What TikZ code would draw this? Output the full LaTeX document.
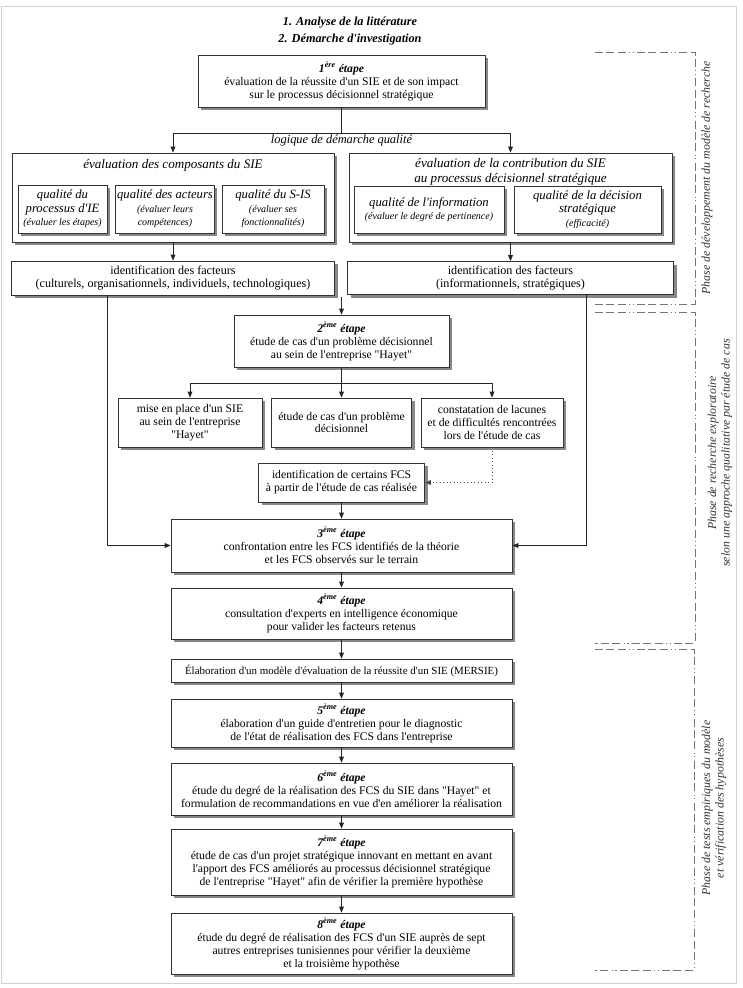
\documentclass[tikz,border=0pt]{standalone}
\usepackage{fontspec}
\setmainfont{Liberation Serif}[Ligatures=TeXOff]
\usetikzlibrary{shadows,arrows.meta}
\newcommand{\bodyf}{\fontsize{8.75pt}{9.7pt}\selectfont}
\newcommand{\smallit}{\fontsize{7.5pt}{8.6pt}\selectfont\itshape}
\newcommand{\subit}{\fontsize{9.5pt}{10.2pt}\selectfont\itshape}
\newcommand{\etape}[2]{\textbf{\textit{#1\textsuperscript{#2} étape}}}
\tikzset{
  box/.style={draw=black!80, line width=0.6pt, fill=white, align=center, inner sep=1pt, font=\bodyf,
    drop shadow={shadow xshift=2.4pt, shadow yshift=-2.4pt, fill=black!55, opacity=0.85}},
  wh/.style 2 args={minimum width=#1*0.75pt, minimum height=#2*0.75pt},
  arr/.style={-{Triangle[length=4.5pt,width=3.6pt]}, line width=0.6pt, draw=black!85},
  plain/.style={line width=0.6pt, draw=black!85},
  ttl/.style={font=\fontsize{9.2pt}{10pt}\selectfont\bfseries\itshape},
  evtitle/.style={align=center, inner sep=0pt, font=\fontsize{9.8pt}{10.8pt}\selectfont\itshape},
  phase/.style={align=center, inner sep=0pt, text=black!80, font=\fontsize{8.9pt}{10.2pt}\selectfont\itshape},
  phaseline/.style={draw=black!55, line width=0.7pt,
    dash pattern=on 6pt off 2.5pt on 6pt off 2.5pt on 6pt off 2.5pt on 0.8pt off 2pt on 0.8pt off 2.5pt}
}
\begin{document}
\begin{tikzpicture}[x=0.75pt,y=-0.75pt]
\useasboundingbox (0,0) rectangle (742,988);
\draw[black!18, line width=0.6pt] (1,6) rectangle (736,983);

% titles
\node[ttl] (t1) at (350,23) {1. Analyse de la littérature};
\node[ttl] (t2) at (350,40) {2. Démarche d'investigation};

% step 1
\node[box, wh={287}{52}] (b1) at (341.5,81) {\etape{1}{ère}\\ évaluation de la réussite d'un SIE et de son impact\\ sur le processus décisionnel stratégique};

% evaluation boxes
\node[box, wh={322}{89}] (evalL) at (173,197.5) {};
\node[evtitle] (evalLt) at (173,165) {évaluation des composants du SIE};
\node[box, wh={89}{48}, font=\subit] (qa) at (62.5,209) {qualité du\\ processus d'IE\\ {\smallit (évaluer les étapes)}};
\node[box, wh={98}{48}, font=\subit] (qb) at (165,209) {qualité des acteurs\\ {\smallit (évaluer leurs}\\ {\smallit compétences)}};
\node[box, wh={102}{48}, font=\subit] (qc) at (273,209) {qualité du S-IS\\ {\smallit (évaluer ses}\\ {\smallit fonctionnalités)}};

\node[box, wh={323}{89}] (evalR) at (510.5,197.5) {};
\node[evtitle] (evalRt) at (510.5,172) {évaluation de la contribution du SIE\\ au processus décisionnel stratégique};
\node[box, wh={150}{47}, font=\subit] (qd) at (429,209.5) {qualité de l'information\\ {\smallit (évaluer le degré de pertinence)}};
\node[box, wh={147}{47}, font=\subit] (qe) at (587.5,209.5) {qualité de la décision\\ stratégique\\ {\smallit (efficacité)}};

% factors
\node[box, wh={323}{34}, font=\fontsize{9.1pt}{10pt}\selectfont] (facL) at (173,278) {identification des facteurs\\ (culturels, organisationnels, individuels, technologiques)};
\node[box, wh={326}{33}, font=\fontsize{9.1pt}{10pt}\selectfont] (facR) at (510.5,278) {identification des facteurs\\ (informationnels, stratégiques)};

% step 2
\node[box, wh={215}{52}] (b2) at (341.5,341) {\etape{2}{ème}\\ étude de cas d'un problème décisionnel\\ au sein de l'entreprise "Hayet"};
\node[box, wh={144}{49}] (ca) at (190,422.5) {mise en place d'un SIE\\ au sein de l'entreprise\\ "Hayet"};
\node[box, wh={140}{49}] (cb) at (341.5,422.5) {étude de cas d'un problème\\ décisionnel};
\node[box, wh={142}{49}] (cc) at (492,422.5) {constatation de lacunes\\ et de difficultés rencontrées\\ lors de l'étude de cas};
\node[box, wh={166}{39}] (fcs) at (341.5,482.5) {identification de certains FCS\\ à partir de l'étude de cas réalisée};

% steps 3-8
\node[box, wh={341}{53}] (b3) at (341.5,545.5) {\etape{3}{ème}\\ confrontation entre les FCS identifiés de la théorie\\ et les FCS observés sur le terrain};
\node[box, wh={341}{51}] (b4) at (341.5,613.5) {\etape{4}{ème}\\ consultation d'experts en intelligence économique\\ pour valider les facteurs retenus};
\node[box, wh={341}{23}, font=\fontsize{8.2pt}{9pt}\selectfont] (mer) at (341.5,670.5) {Élaboration d'un modèle d'évaluation de la réussite d'un SIE (MERSIE)};
\node[box, wh={341}{48}] (b5) at (341.5,723) {\etape{5}{ème}\\ élaboration d'un guide d'entretien pour le diagnostic\\ de l'état de réalisation des FCS dans l'entreprise};
\node[box, wh={341}{52}] (b6) at (341.5,789) {\etape{6}{ème}\\ étude du degré de la réalisation des FCS du SIE dans "Hayet" et\\ formulation de recommandations en vue d'en améliorer la réalisation};
\node[box, wh={341}{66}] (b7) at (341.5,862) {\etape{7}{ème}\\ étude de cas d'un projet stratégique innovant en mettant en avant\\ l'apport des FCS améliorés au processus décisionnel stratégique\\ de l'entreprise "Hayet" afin de vérifier la première hypothèse};
\node[box, wh={341}{61}] (b8) at (341.5,943.5) {\etape{8}{ème}\\ étude du degré de réalisation des FCS d'un SIE auprès de sept\\ autres entreprises tunisiennes pour vérifier la deuxième\\ et la troisième hypothèse};

% connectors
\coordinate (s1) at (341.5,133);
\draw[plain] (b1.south) -- (s1);
\draw[arr] (s1) -| (evalL.north);
\draw[arr] (s1) -| (evalR.north);
\node[font=\fontsize{9.3pt}{10pt}\selectfont\itshape, inner sep=0pt] (lq) at (341.5,140.5) {logique de démarche qualité};

\draw[arr] (evalL.south) -- (facL.north);
\draw[arr] (evalR.south) -- (facR.north);

\coordinate (lx) at (107,0);
\coordinate (rx) at (586,0);
\draw[arr] (facL.south -| lx) |- (b3.west);
\draw[arr] (facR.south -| rx) |- (b3.east);

\coordinate (m2) at (341.5,297);
\draw[arr] (m2) -- (b2.north);

\coordinate (s2) at (341.5,383);
\draw[plain] (b2.south) -- (s2);
\draw[arr] (s2) -| (ca.north);
\draw[arr] (s2) -- (cb.north);
\draw[arr] (s2) -| (cc.north);
\draw[arr, dotted, draw=black!70] (cc.south) |- (fcs.east);
\draw[arr] (fcs.south) -- (b3.north);

\draw[arr] (b3.south) -- (b4.north);
\draw[arr] (b4.south) -- (mer.north);
\draw[arr] (mer.south) -- (b5.north);
\draw[arr] (b5.south) -- (b6.north);
\draw[arr] (b6.south) -- (b7.north);
\draw[arr] (b7.south) -- (b8.north);

% phase brackets
\draw[phaseline] (595,52) -- (695,52) -- (695,304) -- (595,304);
\draw[phaseline] (595,312) -- (695,312) -- (695,643) -- (595,643);
\draw[phaseline] (595,649) -- (694,649) -- (694,970) -- (595,970);
\node[phase, rotate=90] (p1) at (707,178) {Phase de développement du modèle de recherche};
\node[phase, rotate=90] (p2) at (720,453) {Phase de recherche exploratoire\\ selon une approche qualitative par étude de cas};
\node[phase, rotate=90] (p3) at (714,808) {Phase de tests empiriques du modèle\\ et vérification des hypothèses};
\end{tikzpicture}
\end{document}
